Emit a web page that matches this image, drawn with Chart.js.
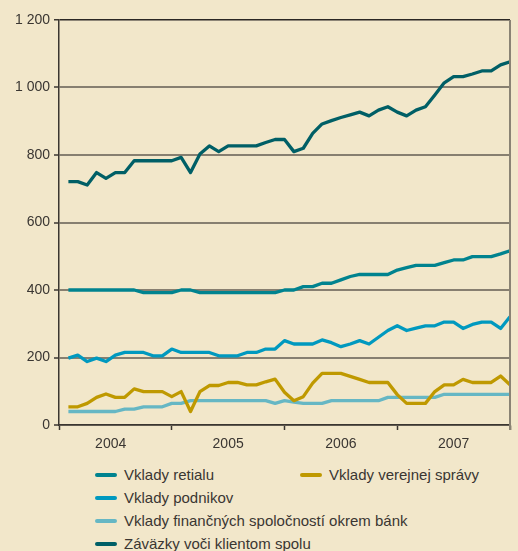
<!DOCTYPE html>
<html>
<head>
<meta charset="utf-8">
<script src="https://cdn.jsdelivr.net/npm/chart.js@4.4.4/dist/chart.umd.min.js"></script>
<style>
  body { margin: 0; background: #f2e7ca; width: 518px; height: 551px; overflow: hidden; position: relative; }
  #chart { position: absolute; left: 0; top: 0; }
  .legend {
    position: absolute; left: 95px; top: 463px;
    display: grid; grid-auto-flow: column;
    grid-template-columns: 205px 200px; grid-template-rows: repeat(4, 23px);
    font: 15px "Liberation Sans", Arial, sans-serif; color: #3a3632;
  }
  .legend div { display: flex; align-items: center; white-space: nowrap; overflow: visible; min-width: 0; }
  .legend span { flex: 0 0 22px; width: 22px; height: 4px; border-radius: 2px; margin-right: 7px; }
</style>
</head>
<body>
<canvas id="chart" width="518" height="460"></canvas>
<div class="legend" id="legend"></div>
<script>
// monthly data, Jan 2004 - Dec 2007 (mld. Sk)
const years = ['2004', '2005', '2006', '2007'];
const monthNames = ['I', 'II', 'III', 'IV', 'V', 'VI', 'VII', 'VIII', 'IX', 'X', 'XI', 'XII'];

const retail = [400, 400, 400, 400, 400, 400, 400, 400, 392, 392, 392, 392,
  400, 400, 392, 392, 392, 392, 392, 392, 392, 392, 392, 400,
  400, 410, 410, 420, 420, 430, 440, 446, 446, 446, 446, 459,
  466, 473, 473, 473, 481, 489, 489, 499, 499, 499, 507, 516];

const podniky = [198, 207, 188, 198, 188, 207, 215, 215, 215, 205, 205, 225,
  215, 215, 215, 215, 205, 205, 205, 215, 215, 225, 225, 250,
  240, 240, 240, 252, 244, 232, 240, 250, 240, 260, 280, 294,
  280, 287, 294, 294, 305, 305, 286, 298, 305, 305, 286, 321];

const financne = [40, 40, 40, 40, 40, 40, 47, 47, 54, 54, 54, 64,
  64, 72, 72, 72, 72, 72, 72, 72, 72, 72, 64, 72,
  68, 64, 64, 64, 72, 72, 72, 72, 72, 72, 82, 82,
  82, 82, 82, 82, 91, 91, 91, 91, 91, 91, 91, 91];

const zavazky = [721, 721, 711, 748, 731, 748, 748, 783, 783, 783, 783, 783,
  793, 748, 803, 827, 810, 827, 827, 827, 827, 837, 846, 846,
  810, 820, 864, 892, 902, 911, 919, 927, 916, 933, 943, 927,
  916, 933, 943, 978, 1014, 1032, 1032, 1040, 1049, 1049, 1067, 1076];

const verejna = [54, 54, 64, 82, 92, 82, 82, 107, 99, 99, 99, 84,
  99, 40, 99, 117, 117, 126, 126, 119, 119, 128, 136, 97,
  72, 84, 124, 153, 153, 153, 144, 135, 126, 126, 126, 90,
  64, 64, 64, 99, 119, 119, 135, 126, 126, 126, 145, 119];

const yTicks = [0, 200, 400, 600, 800, 1000, 1200];

const seriesNames = ['Vklady retialu', 'Vklady podnikov', 'Vklady finančných spoločností okrem bánk',
  'Záväzky voči klientom spolu', 'Vklady verejnej správy'];
const seriesData = [retail, podniky, financne, zavazky, verejna];
const seriesColors = ['#00838f', '#0099bf', '#66b7c4', '#005f66', '#bf9900'];

const periods = years.flatMap(y => monthNames.map(m => m + '/' + y));

const datasets = seriesNames.map((name, i) => ({
  label: name,
  data: seriesData[i].map((v, j) => ({ x: j + 1, y: v })),
  borderColor: seriesColors[i],
  backgroundColor: seriesColors[i],
  borderWidth: 3.3,
  pointRadius: 0,
  tension: 0,
  borderJoinStyle: 'round',
  order: name === 'Vklady verejnej správy' ? 0 : i + 1
}));

const frame = {
  id: 'frame',
  afterDraw(chart) {
    const { ctx, chartArea: a } = chart;
    ctx.save();
    ctx.strokeStyle = '#8a8374';
    ctx.lineWidth = 2;
    ctx.beginPath();
    ctx.moveTo(a.right, a.top);
    ctx.lineTo(a.right, a.bottom + 5);
    ctx.stroke();
    ctx.restore();
  }
};

const font = { family: '"Liberation Sans", Arial, sans-serif', size: 14 };

new Chart(document.getElementById('chart'), {
  type: 'line',
  data: { labels: periods, datasets },
  plugins: [frame],
  options: {
    responsive: false,
    animation: false,
    devicePixelRatio: 1,
    layout: { padding: { left: 0, top: 20, right: 8, bottom: 0 } },
    plugins: { legend: { display: false }, tooltip: { enabled: false } },
    scales: {
      x: {
        type: 'linear',
        min: 0,
        max: 48,
        afterBuildTicks(scale) {
          scale.ticks = [0, 5.5, 12, 18, 24, 30, 36, 42, 48].map(v => ({ value: v }));
        },
        afterFit(scale) { scale.height = 35; },
        grid: {
          drawOnChartArea: false,
          tickLength: 5,
          tickWidth: 1.5,
          tickColor: c => (c.tick && c.tick.value % 12 === 0) ? '#3b3630' : 'rgba(0,0,0,0)'
        },
        border: { color: '#3b3630', width: 1.5 },
        ticks: {
          autoSkip: false,
          maxRotation: 0,
          padding: 6,
          color: '#3a3632',
          font,
          callback: v => v % 12 === 0 ? '' : years[Math.floor(v / 12)]
        }
      },
      y: {
        min: 0,
        max: 1200,
        afterBuildTicks(scale) {
          scale.ticks = yTicks.map(v => ({ value: v }));
        },
        afterFit(scale) { scale.width = 59; },
        grid: {
          color: c => c.tick && c.tick.value === 1200 ? '#2b2724' : '#877f70',
          lineWidth: c => c.tick && c.tick.value === 1200 ? 1.5 : 2,
          tickLength: 5,
          tickWidth: 1.5,
          tickColor: '#3b3630'
        },
        border: { color: '#3b3630', width: 1.5 },
        ticks: {
          padding: 4,
          color: '#3a3632',
          font,
          callback: v => v.toLocaleString('en-US').replace(',', ' ')
        }
      }
    }
  }
});

// legend: left column four series, right column the public sector
const legendEl = document.getElementById('legend');
seriesNames.forEach((name, i) => {
  const item = document.createElement('div');
  item.innerHTML = `<span style="background:${seriesColors[i]}"></span>${name}`;
  legendEl.appendChild(item);
});
</script>
</body>
</html>
